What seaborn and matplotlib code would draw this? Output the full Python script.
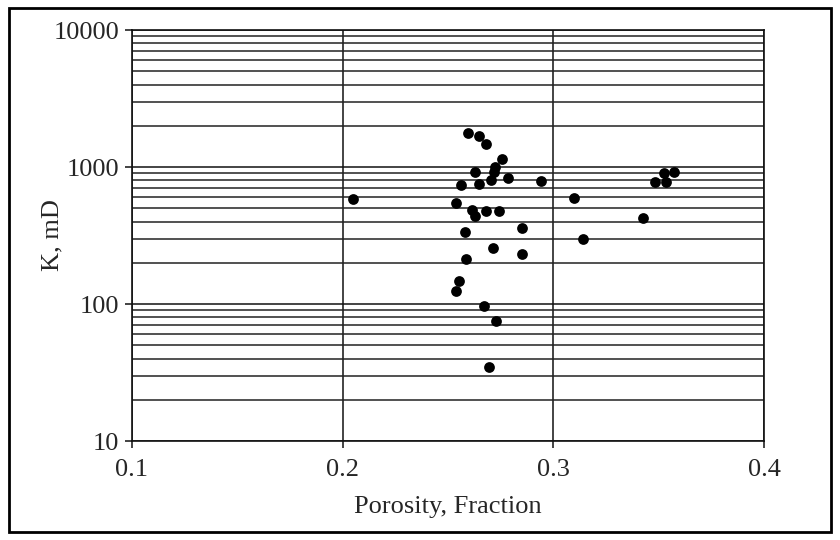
import matplotlib
matplotlib.use("Agg")
import matplotlib.pyplot as plt
import seaborn as sns
import pandas as pd
from matplotlib.patches import Rectangle
from matplotlib.ticker import LogLocator, FixedLocator, NullFormatter

# Core porosity / permeability measurements
porosity = [0.205, 0.2596, 0.2648, 0.2683, 0.2755, 0.2723, 0.2718, 0.2628,
            0.2704, 0.2648, 0.2786, 0.2560, 0.2944, 0.3098, 0.2538, 0.2612,
            0.2628, 0.2683, 0.2742, 0.2580, 0.2850, 0.3142, 0.2715, 0.2850,
            0.2588, 0.2553, 0.2538, 0.2672, 0.2726, 0.2696, 0.3424, 0.3482,
            0.3525, 0.3537, 0.3574]
perm_md = [584, 1780, 1683, 1465, 1138, 995, 924, 915,
           804, 752, 836, 739, 794, 597, 543, 486,
           438, 480, 480, 333, 357, 298, 255, 232,
           212, 147, 124, 97, 75, 34.5, 422, 773,
           908, 782, 924]

x_ticks = [0.1, 0.2, 0.3, 0.4]
y_ticks = [10, 100, 1000, 10000]
y_tick_labels = ["10", "100", "1000", "10000"]

df = pd.DataFrame({"Porosity": porosity, "K": perm_md})

sns.set_style("white")
plt.rcParams["font.family"] = ["Liberation Serif", "DejaVu Serif"]

fig = plt.figure(figsize=(8.4, 5.4), dpi=100)
ax = fig.add_axes([0.157, 0.1833, 0.7525, 0.7611])

ax.set_yscale("log")
ax.set_xlim(0.1, 0.4)
ax.set_ylim(10, 10000)

# horizontal grid at every decade subdivision, vertical at x ticks
ax.yaxis.set_major_locator(FixedLocator(y_ticks))
ax.yaxis.set_minor_locator(LogLocator(base=10, subs=range(2, 10)))
ax.yaxis.set_minor_formatter(NullFormatter())
ax.set_yticklabels(y_tick_labels)
ax.set_xticks(x_ticks)
ax.set_xticklabels([f"{v:.1f}" for v in x_ticks])

ax.grid(True, which="major", axis="both", color="#111111", linewidth=1.1)
ax.grid(True, which="minor", axis="y", color="#222222", linewidth=1.1)
ax.set_axisbelow(True)

sns.scatterplot(data=df, x="Porosity", y="K", ax=ax, color="black",
                s=60, edgecolor="black", linewidth=0, zorder=3, legend=False)

for side in ["left", "bottom", "right", "top"]:
    ax.spines[side].set_visible(True)
    ax.spines[side].set_color("#111111")
    ax.spines[side].set_linewidth(1.2)

ax.tick_params(axis="both", which="major", direction="out", length=5,
               width=1.1, color="#111111", labelsize=19, pad=4,
               left=True, bottom=True)
ax.tick_params(axis="x", which="major", pad=8)
ax.tick_params(axis="y", which="minor", length=0)

ax.set_xlabel("Porosity, Fraction", fontsize=19, labelpad=11)
ax.set_ylabel("K, mD", fontsize=19)
ax.yaxis.set_label_coords(-0.108, 0.5)

# outer frame around the whole figure
fig.patches.append(Rectangle((0.0107, 0.0148), 0.979, 0.9704,
                             transform=fig.transFigure, fill=False,
                             edgecolor="black", linewidth=2))

fig.savefig("out.png", dpi=100)
